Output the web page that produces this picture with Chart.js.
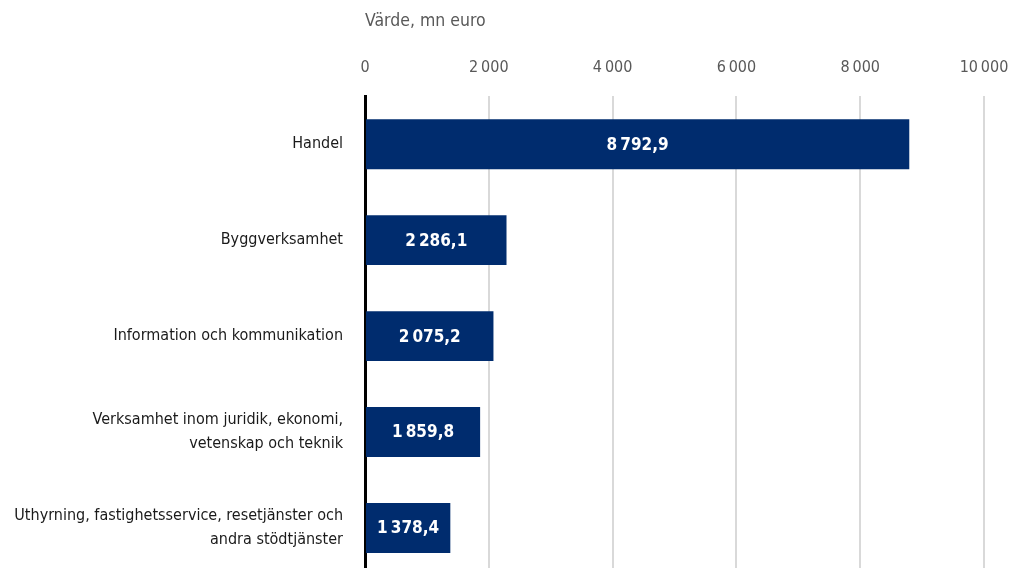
<!DOCTYPE html>
<html>
<head>
<meta charset="utf-8">
<script src="https://cdn.jsdelivr.net/npm/chart.js@4"></script>
<style>
  html, body { margin: 0; padding: 0; overflow: hidden; background: #fff; }
  #wrap { position: relative; width: 1010px; height: 610px; }
</style>
</head>
<body>
<div id="wrap"><canvas id="chart"></canvas></div>
<script>
  // ===== Data =====
  const categories = [
    "Handel",
    "Byggverksamhet",
    "Information och kommunikation",
    ["Verksamhet inom juridik, ekonomi,", "vetenskap och teknik"],
    ["Uthyrning, fastighetsservice, resetjänster och", "andra stödtjänster"]
  ];
  const values = [8792.9, 2286.1, 2075.2, 1859.8, 1378.4];
  const xTicks = [0, 2000, 4000, 6000, 8000, 10000];
  const axisTitle = "Värde, mn euro";

  const FONT = '"Liberation Sans Narrow", "DejaVu Sans Condensed", sans-serif';
  const THIN = "\u2009";

  function fmt(v, dec) {
    let s = v.toFixed(dec);
    let parts = s.split(".");
    let int = parts[0].replace(/\B(?=(\d{3})+(?!\d))/g, THIN);
    return parts.length > 1 ? int + "," + parts[1] : int;
  }

  // ===== Value labels inside the bars =====
  const barLabels = {
    id: "barLabels",
    afterDatasetsDraw(chart) {
      const ctx = chart.ctx;
      const meta = chart.getDatasetMeta(0);
      ctx.save();
      ctx.fillStyle = "#ffffff";
      ctx.font = "bold 17px " + FONT;
      ctx.textAlign = "center";
      ctx.textBaseline = "middle";
      meta.data.forEach((bar, i) => {
        const x = (bar.base + bar.x) / 2;
        ctx.fillText(fmt(values[i], 1), x, bar.y + 1);
      });
      ctx.restore();
    }
  };

  const ctx = document.getElementById("chart").getContext("2d");
  new Chart(ctx, {
    type: "bar",
    data: {
      labels: categories,
      datasets: [{
        data: values,
        backgroundColor: "#002C6E",
        categoryPercentage: 1,
        barPercentage: 0.52
      }]
    },
    options: {
      indexAxis: "y",
      responsive: true,
      maintainAspectRatio: false,
      animation: false,
      layout: { padding: { top: 11, right: 0, left: 0, bottom: 0 } },
      plugins: {
        legend: { display: false },
        tooltip: { enabled: false }
      },
      scales: {
        x: {
          position: "top",
          min: 0,
          max: 10000,
          afterBuildTicks(scale) {
            scale.ticks = xTicks.map(v => ({ value: v }));
          },
          afterFit(scale) {
            scale.paddingLeft = 0;
            scale.paddingRight = 26;
          },
          ticks: {
            color: "#595959",
            font: { family: FONT, size: 16 },
            padding: 19,
            callback: v => fmt(v, 0)
          },
          grid: { color: "#d9d9d9", lineWidth: 2, drawTicks: false },
          border: { display: false },
          title: {
            display: true,
            text: axisTitle,
            align: "start",
            color: "#595959",
            font: { family: FONT, size: 17.5 },
            padding: { top: 0, bottom: 7 }
          }
        },
        y: {
          afterFit(scale) { scale.width = 365; },
          ticks: {
            color: "#1a1a1a",
            font: { family: FONT, size: 16, lineHeight: 1.5 },
            padding: 22
          },
          grid: { display: false, drawTicks: false },
          border: { display: true, color: "#000000", width: 3 }
        }
      }
    },
    plugins: [barLabels]
  });
</script>
</body>
</html>
